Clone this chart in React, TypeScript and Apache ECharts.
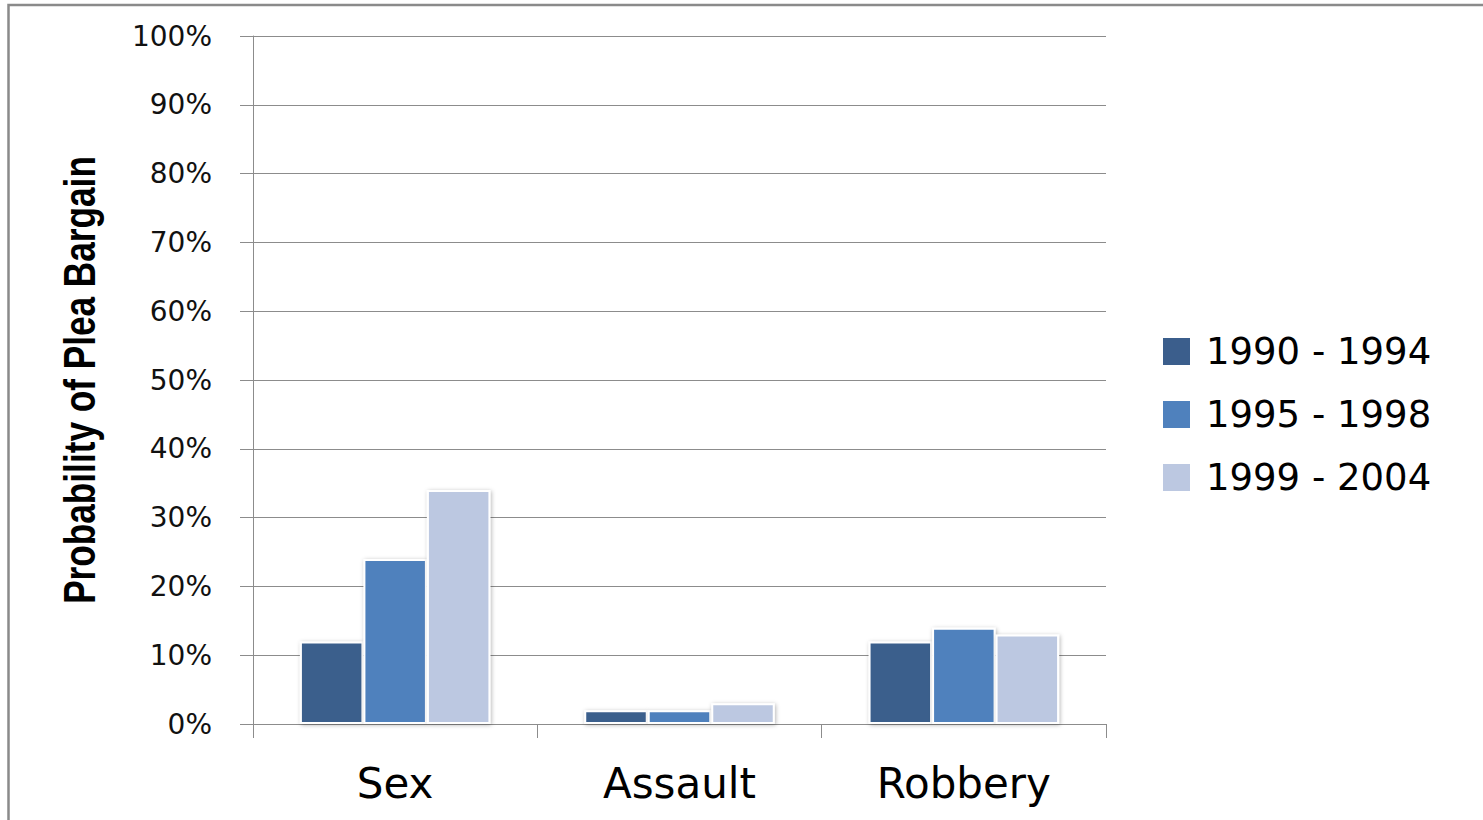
import React, { useEffect, useRef } from "react";
import * as echarts from "echarts";

const categories = ["Sex", "Assault", "Robbery"];
const seriesNames = ["1990 - 1994", "1995 - 1998", "1999 - 2004"];
const values1990 = [12, 2, 12];
const values1995 = [24, 2, 14];
const values1999 = [34, 3, 13];
const seriesColors = ["#3B5E8C", "#4F81BD", "#BCC8E1"];
const yTitle = "Probability of Plea Bargain";

export default function App() {
  const ref = useRef<HTMLDivElement>(null);
  useEffect(() => {
    if (!ref.current) return;
    const chart = echarts.init(ref.current, null, { renderer: "svg" });
    const allValues = [values1990, values1995, values1999];
    chart.setOption({
      animation: false,
      backgroundColor: "#ffffff",
      graphic: [
        {
          type: "rect",
          shape: { x: 8.5, y: 5, width: 1500, height: 840 },
          style: { fill: "none", stroke: "#8a8a8a", lineWidth: 2.5 },
          silent: true,
          z: 100,
        },
        {
          type: "text",
          x: 80,
          y: 380,
          rotation: Math.PI / 2,
          scaleX: 0.8,
          style: {
            text: yTitle,
            font: 'bold 44px "Liberation Sans", Arial, sans-serif',
            fill: "#000",
            align: "center",
            verticalAlign: "middle",
          },
          silent: true,
        },
      ],
      grid: { left: 253, right: 377, top: 36, bottom: 96 },
      legend: {
        orient: "vertical",
        left: 1161,
        top: 333,
        padding: 0,
        icon: "rect",
        itemWidth: 29,
        itemHeight: 29,
        itemGap: 26,
        data: seriesNames,
        textStyle: {
          fontFamily: "DejaVu Sans",
          fontSize: 37,
          color: "#000",
          padding: [0, 0, 0, 10],
        },
      },
      xAxis: {
        type: "category",
        data: categories,
        axisLine: { show: true, lineStyle: { color: "#8c8c8c", width: 1 } },
        axisTick: { show: true, length: 14, alignWithLabel: false, lineStyle: { color: "#8c8c8c" } },
        axisLabel: {
          fontFamily: "DejaVu Sans",
          fontSize: 42,
          color: "#000",
          margin: 38,
        },
        splitLine: { show: false },
      },
      yAxis: {
        type: "value",
        min: 0,
        max: 100,
        interval: 10,
        axisLine: { show: true, lineStyle: { color: "#8c8c8c", width: 1 } },
        axisTick: { show: true, length: 13, lineStyle: { color: "#8c8c8c" } },
        axisLabel: {
          fontFamily: "DejaVu Sans",
          fontSize: 28,
          color: "#111",
          margin: 41,
          formatter: (v: number) => `${v}%`,
        },
        splitLine: { show: true, lineStyle: { color: "#8c8c8c", width: 1 } },
      },
      series: seriesNames.map((name, i) => ({
        name,
        type: "bar",
        data: allValues[i],
        barGap: "0%",
        barCategoryGap: "33%",
        itemStyle: {
          color: seriesColors[i],
          borderColor: "#ffffff",
          borderWidth: 2,
          shadowBlur: 4,
          shadowColor: "rgba(0,0,0,0.3)",
          shadowOffsetX: 1,
          shadowOffsetY: 1,
        },
      })),
    });
    return () => chart.dispose();
  }, []);
  return (
    <div
      ref={ref}
      style={{ position: "fixed", left: 0, top: 0, width: 1483, height: 820 }}
    />
  );
}
